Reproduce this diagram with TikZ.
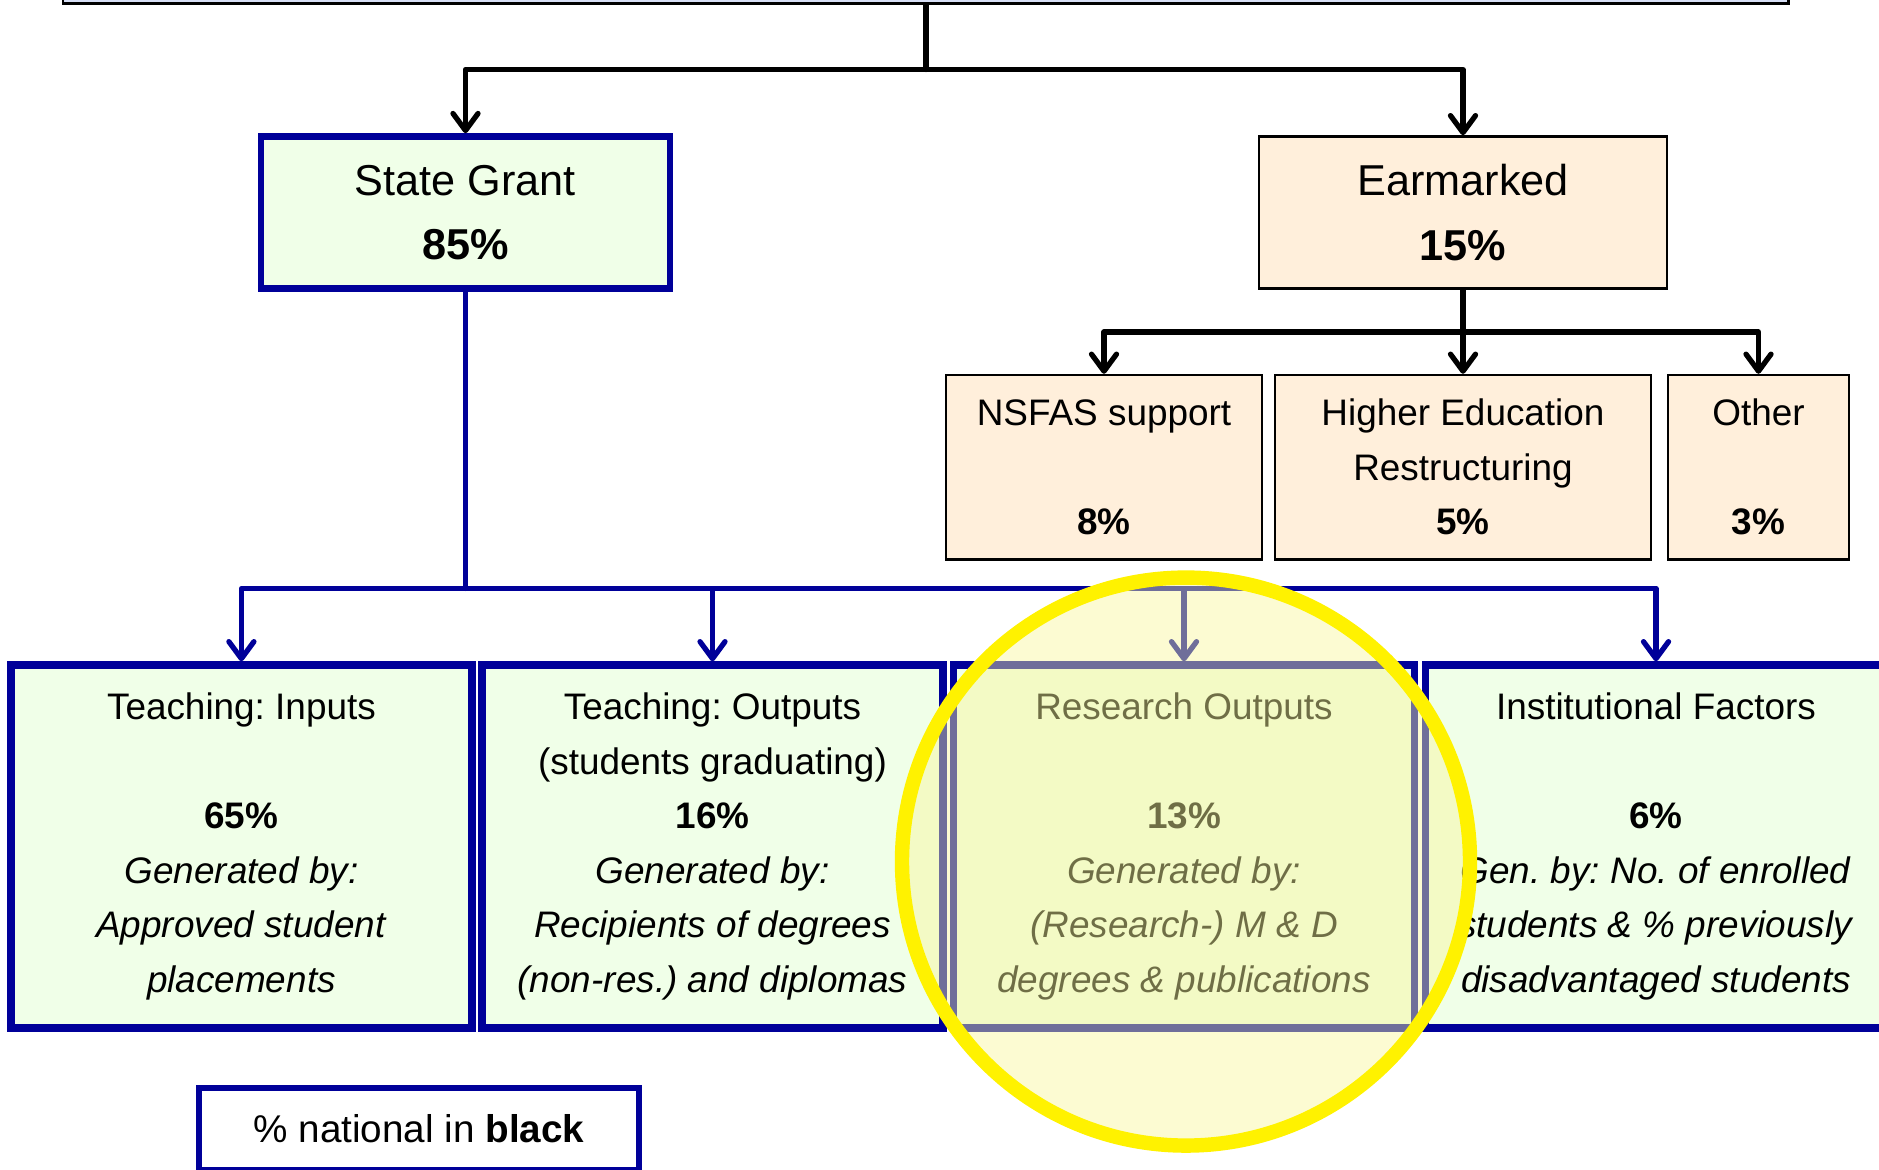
\documentclass[tikz,border=0pt]{standalone}
\usepackage{fontspec}
\setmainfont{Liberation Sans}
\usepackage{tikz}
\usetikzlibrary{arrows.meta}

\definecolor{ngblue}{RGB}{0,0,153}
\definecolor{grantfill}{RGB}{240,255,232}
\definecolor{earfill}{RGB}{255,239,219}
\definecolor{topfill}{RGB}{214,222,245}
\definecolor{fadeyel}{RGB}{248,246,156}

\frenchspacing
\begin{document}
\begin{tikzpicture}[
  conn/.style={line width=1.5pt, line cap=round, line join=round},
  arr/.style={conn, -{Straight Barb[length=1.7mm,width=2.5mm,round]}},
  bigfont/.style={font=\fontsize{12.3}{18.4}\selectfont},
  smallfont/.style={font=\fontsize{10.5}{15.5}\selectfont},
  topbox/.style={draw=black, fill=topfill, line width=0.7pt},
  grantbox/.style={draw=ngblue, fill=grantfill, line width=1.9pt, align=center, bigfont,
    minimum width=4.09cm, minimum height=1.52cm, inner sep=0pt},
  earbox/.style={draw=black, fill=earfill, line width=0.7pt, align=center, bigfont,
    minimum width=4.075cm, minimum height=1.52cm, inner sep=0pt},
  subbox/.style={draw=black, fill=earfill, line width=0.7pt, align=center, smallfont,
    minimum height=1.845cm, inner sep=0pt},
  factorbox/.style={draw=ngblue, fill=grantfill, line width=2.1pt, align=center, smallfont,
    minimum width=4.61cm, minimum height=3.63cm, inner sep=0pt},
  legendbox/.style={draw=ngblue, fill=white, line width=1.9pt, align=center,
    font=\fontsize{11}{13}\selectfont, minimum width=4.4cm, minimum height=0.82cm, inner sep=0pt}
]
\useasboundingbox (0,0) rectangle (18.79,11.70);
\clip (0,0) rectangle (18.79,11.70);

% top level
\node[topbox, minimum width=17.25cm, minimum height=1cm] (total) at (9.2575,12.164) {};

\node[grantbox] (sgrant) at (4.655,9.575) {State Grant\\\textbf{85\%}};
\node[earbox] (earm) at (14.63,9.575) {Earmarked\\\textbf{15\%}};

\coordinate (split1) at (9.26,11.005);
\draw[conn] (total.south -| split1) -- (split1);
\draw[arr] (split1) -| (sgrant);
\draw[arr] (split1) -| (earm);

% earmarked funds
\node[subbox, minimum width=3.165cm] (nsfas) at (11.04,7.027) {NSFAS support\\[15.5pt]\textbf{8\%}};
\node[subbox, minimum width=3.76cm] (hered) at (14.63,7.027) {Higher Education\\Restructuring\\\textbf{5\%}};
\node[subbox, minimum width=1.81cm] (other) at (17.585,7.027) {Other\\[15.5pt]\textbf{3\%}};

\coordinate (split2) at (14.63,8.38);
\draw[conn] (earm.south) -- (split2);
\draw[arr] (split2) -| (nsfas);
\draw[arr] (split2) -- (hered);
\draw[arr] (split2) -| (other);

% state grant
\node[factorbox] (tinp) at (2.414,3.235) {Teaching: Inputs\\[15.5pt]\textbf{65\%}\\\textit{Generated by:}\\\textit{Approved student}\\\textit{placements}};
\node[factorbox] (tout) at (7.125,3.235) {Teaching: Outputs\\(students graduating)\\\textbf{16\%}\\\textit{Generated by:}\\\textit{Recipients of degrees}\\\textit{(non-res.) and diplomas}};
\node[factorbox] (resout) at (11.84,3.235) {Research Outputs\\[15.5pt]\textbf{13\%}\\\textit{Generated by:}\\\textit{(Research-) M \& D}\\\textit{degrees \& publications}};
\node[factorbox] (instf) at (16.56,3.235) {Institutional Factors\\[15.5pt]\textbf{6\%}\\\textit{Gen. by: No. of enrolled}\\\textit{students \& \% previously}\\\textit{disadvantaged students}};

\coordinate (split3) at (4.655,5.816);
\draw[conn, ngblue] (sgrant.south) -- (split3);
\draw[arr, ngblue] (split3) -| (tinp);
\draw[arr, ngblue] (split3) -| (tout);
\draw[arr, ngblue] (split3) -| (resout);
\draw[arr, ngblue] (split3) -| (instf);

\node[legendbox] (legend) at (4.19,0.41) {\% national in \textbf{black}};

% highlight
\coordinate (hilite) at (11.86,3.084);
\fill[fadeyel, fill opacity=0.45] (hilite) circle (2.84);
\draw[yellow, line width=4.1pt] (hilite) circle (2.84);
\end{tikzpicture}
\end{document}
